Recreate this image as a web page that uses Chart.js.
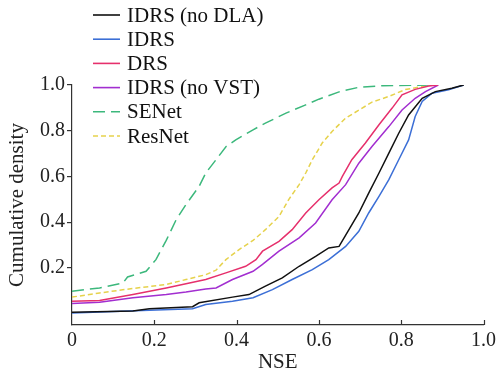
<!DOCTYPE html>
<html>
<head>
<meta charset="utf-8">
<script src="https://cdn.jsdelivr.net/npm/chart.js@4"></script>
<style>
    html, body { margin: 0; padding: 0; background: #fff; }
    #wrap { width: 500px; height: 372px; }
</style>
</head>
<body>
<div id="wrap"><canvas id="cdfChart"></canvas></div>
<script>
// Eksen etiketleri
const xTickValues = [0, 0.2, 0.4, 0.6, 0.8, 1.0];
const yTickValues = [0.2, 0.4, 0.6, 0.8, 1.0];

// IDRS (no DLA)
const noDlaX = [0, 0.148, 0.188, 0.293, 0.309, 0.39, 0.43, 0.47, 0.511, 0.552, 0.592, 0.624, 0.649, 0.673, 0.697, 0.721, 0.746, 0.77, 0.794, 0.818, 0.851, 0.883, 0.923, 0.952];
const noDlaY = [0.006, 0.011, 0.021, 0.03, 0.047, 0.072, 0.083, 0.12, 0.156, 0.207, 0.25, 0.287, 0.294, 0.367, 0.44, 0.527, 0.615, 0.702, 0.789, 0.869, 0.942, 0.971, 0.986, 1.0];

// IDRS
const idrsX = [0, 0.188, 0.293, 0.325, 0.39, 0.44, 0.487, 0.535, 0.584, 0.624, 0.665, 0.697, 0.721, 0.746, 0.77, 0.794, 0.818, 0.834, 0.851, 0.875, 0.915, 0.952];
const idrsY = [0.003, 0.015, 0.021, 0.04, 0.054, 0.069, 0.105, 0.149, 0.192, 0.236, 0.294, 0.36, 0.44, 0.513, 0.586, 0.673, 0.76, 0.862, 0.928, 0.964, 0.979, 1.0];

// DRS
const drsX = [0, 0.067, 0.148, 0.229, 0.277, 0.325, 0.374, 0.422, 0.447, 0.463, 0.503, 0.535, 0.568, 0.6, 0.632, 0.649, 0.657, 0.68, 0.713, 0.746, 0.778, 0.802, 0.834, 0.867, 0.89];
const drsY = [0.054, 0.057, 0.083, 0.112, 0.13, 0.149, 0.178, 0.207, 0.236, 0.273, 0.316, 0.367, 0.44, 0.498, 0.55, 0.571, 0.6, 0.673, 0.746, 0.826, 0.899, 0.957, 0.981, 0.996, 1.0];

// IDRS (no VST)
const noVstX = [0, 0.067, 0.148, 0.229, 0.277, 0.325, 0.35, 0.39, 0.44, 0.463, 0.503, 0.552, 0.592, 0.632, 0.665, 0.697, 0.729, 0.77, 0.802, 0.834, 0.859, 0.89];
const noVstY = [0.044, 0.05, 0.069, 0.083, 0.094, 0.108, 0.112, 0.149, 0.185, 0.215, 0.273, 0.331, 0.396, 0.498, 0.564, 0.658, 0.731, 0.818, 0.891, 0.942, 0.971, 1.0];

// SENet
const senetX = [0, 0.067, 0.124, 0.135, 0.18, 0.204, 0.229, 0.253, 0.277, 0.309, 0.325, 0.35, 0.374, 0.398, 0.44, 0.47, 0.52, 0.568, 0.6, 0.649, 0.697, 0.754, 0.867];
const senetY = [0.098, 0.112, 0.134, 0.16, 0.185, 0.236, 0.32, 0.41, 0.477, 0.557, 0.615, 0.673, 0.73, 0.76, 0.804, 0.833, 0.877, 0.913, 0.938, 0.97, 0.99, 0.997, 1.0];

// ResNet
const resnetX = [0, 0.067, 0.148, 0.229, 0.277, 0.325, 0.35, 0.374, 0.406, 0.44, 0.47, 0.503, 0.527, 0.552, 0.568, 0.584, 0.608, 0.632, 0.665, 0.697, 0.729, 0.77, 0.81, 0.85, 0.875];
const resnetY = [0.072, 0.09, 0.11, 0.127, 0.149, 0.17, 0.19, 0.236, 0.28, 0.32, 0.367, 0.425, 0.5, 0.564, 0.615, 0.673, 0.746, 0.797, 0.855, 0.89, 0.925, 0.95, 0.98, 0.993, 1.0];

function noktalar(xs, ys) {
    return xs.map((x, i) => ({ x: x, y: ys[i] }));
}

function seri(etiket, xs, ys, renk, kesik) {
    return {
        label: etiket,
        data: noktalar(xs, ys),
        borderColor: renk,
        backgroundColor: renk,
        borderWidth: 1.5,
        borderDash: kesik || [],
        pointRadius: 0,
        tension: 0,
        fill: false
    };
}

const yaziTipi = '"Liberation Serif", "Times New Roman", serif';

// Lejant: grafik alanının sol üstünde, eksenin üstüne taşan
const lejantEklentisi = {
    id: 'lejant',
    afterDraw(chart) {
        const ctx = chart.ctx;
        const sol = chart.chartArea.left + 21;
        ctx.save();
        ctx.font = '21px ' + yaziTipi;
        ctx.textBaseline = 'middle';
        ctx.fillStyle = '#111';
        chart.data.datasets.forEach((ds, i) => {
            const y = 15 + i * 24.2;
            ctx.strokeStyle = ds.borderColor;
            ctx.lineWidth = 1.6;
            ctx.setLineDash(ds.borderDash);
            ctx.beginPath();
            ctx.moveTo(sol, y);
            ctx.lineTo(sol + 27, y);
            ctx.stroke();
            ctx.setLineDash([]);
            ctx.fillText(ds.label, sol + 34, y + 1);
        });
        ctx.restore();
    }
};

// X ekseni çentikleri içe doğru
const icCentikEklentisi = {
    id: 'icCentik',
    afterDraw(chart) {
        const ctx = chart.ctx;
        const xOlcek = chart.scales.x;
        const alt = chart.chartArea.bottom;
        ctx.save();
        ctx.strokeStyle = '#333';
        ctx.lineWidth = 1.2;
        xTickValues.forEach(v => {
            if (v === 0) return;
            const px = Math.round(xOlcek.getPixelForValue(v)) + 0.5;
            ctx.beginPath();
            ctx.moveTo(px, alt);
            ctx.lineTo(px, alt - 5);
            ctx.stroke();
        });
        ctx.restore();
    }
};

const ctx = document.getElementById('cdfChart').getContext('2d');
new Chart(ctx, {
    type: 'line',
    data: {
        datasets: [
            seri('IDRS (no DLA)', noDlaX, noDlaY, '#111111'),
            seri('IDRS', idrsX, idrsY, '#3c6fd6'),
            seri('DRS', drsX, drsY, '#e6306c'),
            seri('IDRS (no VST)', noVstX, noVstY, '#a22ed0'),
            seri('SENet', senetX, senetY, '#3cb87c', [12, 6]),
            seri('ResNet', resnetX, resnetY, '#e6d24c', [5, 3])
        ]
    },
    options: {
        responsive: true,
        maintainAspectRatio: false,
        animation: false,
        layout: { padding: { top: 85, right: 15, left: 0, bottom: 0 } },
        plugins: {
            legend: { display: false },
            tooltip: { enabled: false }
        },
        scales: {
            x: {
                type: 'linear',
                min: 0,
                max: 1,
                afterBuildTicks: (olcek) => { olcek.ticks = xTickValues.map(v => ({ value: v })); },
                afterFit: (olcek) => { olcek.height = 47; },
                ticks: {
                    color: '#222',
                    font: { family: yaziTipi, size: 20 },
                    padding: 4,
                    maxRotation: 0,
                    callback: (v) => v === 0 ? '0' : Number(v).toFixed(1)
                },
                grid: { display: false, drawTicks: false },
                border: { display: true, color: '#333', width: 1.2 },
                title: {
                    display: true,
                    text: 'NSE',
                    color: '#222',
                    font: { family: yaziTipi, size: 21 },
                    padding: { top: 0, bottom: -3 }
                }
            },
            y: {
                min: -0.05,
                max: 1.0,
                afterBuildTicks: (olcek) => { olcek.ticks = yTickValues.map(v => ({ value: v })); },
                afterFit: (olcek) => { olcek.width = 72; },
                ticks: {
                    color: '#222',
                    font: { family: yaziTipi, size: 20 },
                    padding: 2,
                    callback: (v) => Number(v).toFixed(1)
                },
                grid: {
                    drawOnChartArea: false,
                    drawTicks: true,
                    tickLength: 5,
                    color: '#333',
                    lineWidth: 1.2
                },
                border: { display: true, color: '#333', width: 1.2 },
                title: {
                    display: true,
                    text: 'Cumulative density',
                    color: '#222',
                    font: { family: yaziTipi, size: 21 },
                    padding: { top: 5, bottom: 4 }
                }
            }
        }
    },
    plugins: [lejantEklentisi, icCentikEklentisi]
});
</script>
</body>
</html>
